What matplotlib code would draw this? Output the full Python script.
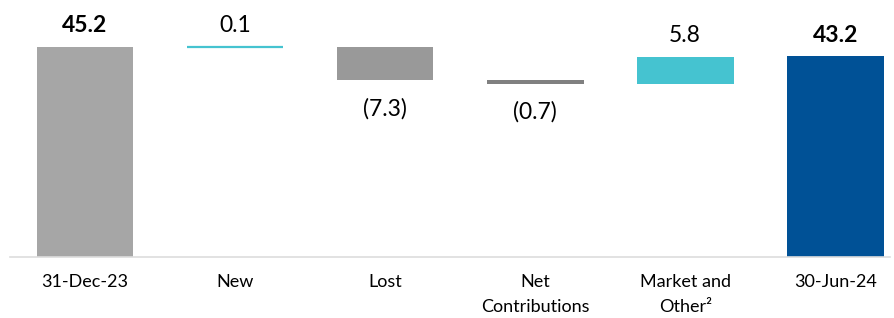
import matplotlib
matplotlib.use("Agg")
import matplotlib.pyplot as plt
import numpy as np

categories = ["31-Dec-23", "New", "Lost", "Net\nContributions", "Market and\nOther²", "30-Jun-24"]
changes = [45.2, 0.1, -7.3, -0.7, 5.8, 43.2]
labels = ["45.2", "0.1", "(7.3)", "(0.7)", "5.8", "43.2"]
kinds = ["total", "delta", "delta", "delta", "delta", "total"]
colors = ["#A6A6A6", "#45C3D0", "#999999", "#808080", "#45C3D0", "#005196"]

plt.rcParams['font.family'] = ['Lato', 'DejaVu Sans']

fig = plt.figure(figsize=(8.94, 3.18), dpi=100)
ax = fig.add_axes([10/894, 61/318, 880/894, 257/318])

x = np.arange(len(categories))
width = 0.645
running = 0.0
for i, (v, k) in enumerate(zip(changes, kinds)):
    if k == "total":
        bottom, height = 0.0, v
        running = v
    else:
        bottom = running if v >= 0 else running + v
        height = abs(v)
        running += v
    thin = height < 0.5
    ax.bar(x[i], height, bottom=bottom, width=width, color=colors[i],
           edgecolor=colors[i] if thin else 'none', linewidth=1.6 if thin else 0)
    top = bottom + height
    if v >= 0:
        ax.annotate(labels[i], (x[i], top), xytext=(0, 10.5), textcoords='offset points',
                    ha='center', va='baseline', fontsize=16.5,
                    fontweight='bold' if k == "total" else 'normal', color='black')
    else:
        ax.annotate(labels[i], (x[i], bottom), xytext=(0, -12.5), textcoords='offset points',
                    ha='center', va='top', fontsize=16.5, color='black')

ax.set_xlim(-0.5, 5.365)
ax.set_ylim(0, 257/4.646)
ax.set_xticks(x)
ax.set_xticklabels(categories, fontsize=13, linespacing=1.75)
ax.tick_params(axis='x', length=0, pad=12)
ax.set_yticks([])
for s in ['top', 'right', 'left']:
    ax.spines[s].set_visible(False)
ax.spines['bottom'].set_color('#DDDDDD')
ax.spines['bottom'].set_linewidth(1.2)

fig.savefig("out.png", dpi=100)
